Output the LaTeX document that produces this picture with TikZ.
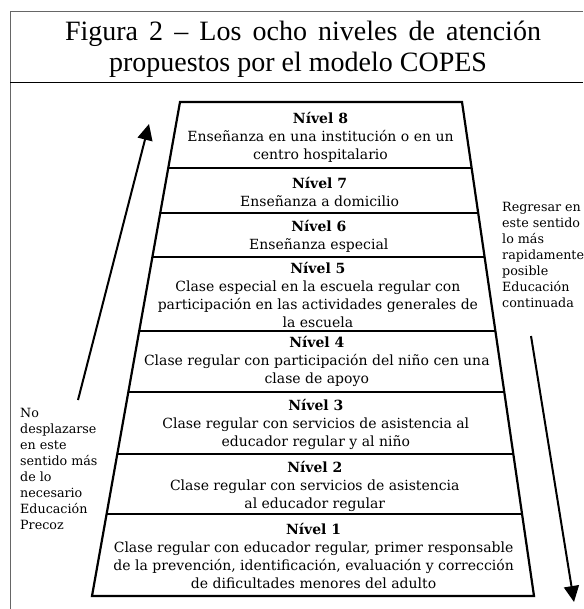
\documentclass[tikz,border=0pt]{standalone}
\usepackage{fontspec}
\setmainfont{DejaVu Serif}
\newfontfamily\titlefont{Liberation Serif}
\usetikzlibrary{calc,arrows.meta}

\begin{document}
\begin{tikzpicture}[x=1pt,y=-1pt,
  tier/.style={line width=2.2pt},
  level/.style={align=center,inner sep=0pt,font=\fontsize{14}{18}\selectfont},
  note/.style={align=left,anchor=north west,inner sep=0pt,font=\fontsize{12.7}{16}\selectfont},
  flow/.style={line width=2pt,-{Triangle[width=15pt,length=16pt]}}]
  \useasboundingbox (0,0) rectangle (583,609);

  % Draw the frame and the title
  \draw[black!60,line width=1pt] (583,12) -- (10,12) -- (10,609);
  \draw[line width=1pt] (10,83) -- (583,83);
  \node[anchor=base,font=\titlefont\fontsize{28}{30}\selectfont] (title1) at (303,41)
    {\makebox[476pt][s]{Figura 2 – Los ocho niveles de atención}};
  \node[anchor=base,font=\titlefont\fontsize{28}{30}\selectfont] (title2) at (298,72)
    {propuestos por el modelo COPES};

  % Draw the trapezoid and its levels
  \coordinate (tl) at (180,102);
  \coordinate (tr) at (462,102);
  \coordinate (bl) at (92,596);
  \coordinate (br) at (534,596);
  \draw[tier,line join=miter] (tl) -- (tr) -- (br) -- (bl) -- cycle;
  \foreach \y in {168,213,257,331,392,454,514}
    \draw[tier] ($(tl)!{(\y-102)/494}!(bl)$) -- ($(tr)!{(\y-102)/494}!(br)$);

  \node[level] (n8) at (320.5,137) {\textbf{Nível 8}\\Enseñanza en una institución o en un\\centro hospitalario};
  \node[level] (n7) at (319.6,192) {\textbf{Nível 7}\\Enseñanza a domicilio};
  \node[level] (n6) at (318.8,236) {\textbf{Nível 6}\\Enseñanza especial};
  \node[level] (n5) at (317.9,295) {\textbf{Nível 5}\\Clase especial en la escuela regular con\\participación en las actividades generales de\\la escuela};
  \node[level] (n4) at (316.8,361) {\textbf{Nível 4}\\Clase regular con participación del niño cen una\\clase de apoyo};
  \node[level] (n3) at (315.8,424) {\textbf{Nível 3}\\Clase regular con servicios de asistencia al\\educador regular y al niño};
  \node[level] (n2) at (314.8,486) {\textbf{Nível 2}\\Clase regular con servicios de asistencia\\al educador regular};
  \node[level] (n1) at (313.6,556) {\textbf{Nível 1}\\Clase regular con educador regular, primer responsable\\de la prevención, identificación, evaluación y corrección\\de dificultades menores del adulto};

  % Draw the arrows and their notes
  \coordinate (upT) at (78,400);
  \coordinate (upH) at (149,124);
  \coordinate (downT) at (531,336);
  \coordinate (downH) at (574,602);
  \draw[flow] (upT) -- (upH);
  \draw[flow] (downT) -- (downH);
  \node[note] (noteL) at (20,408) {No\\desplazarse\\en este\\sentido más\\de lo\\necesario\\Educación\\Precoz};
  \node[note] (noteR) at (502,202) {Regresar en\\este sentido\\lo más\\rapidamente\\posible\\Educación\\continuada};
\end{tikzpicture}
\end{document}
